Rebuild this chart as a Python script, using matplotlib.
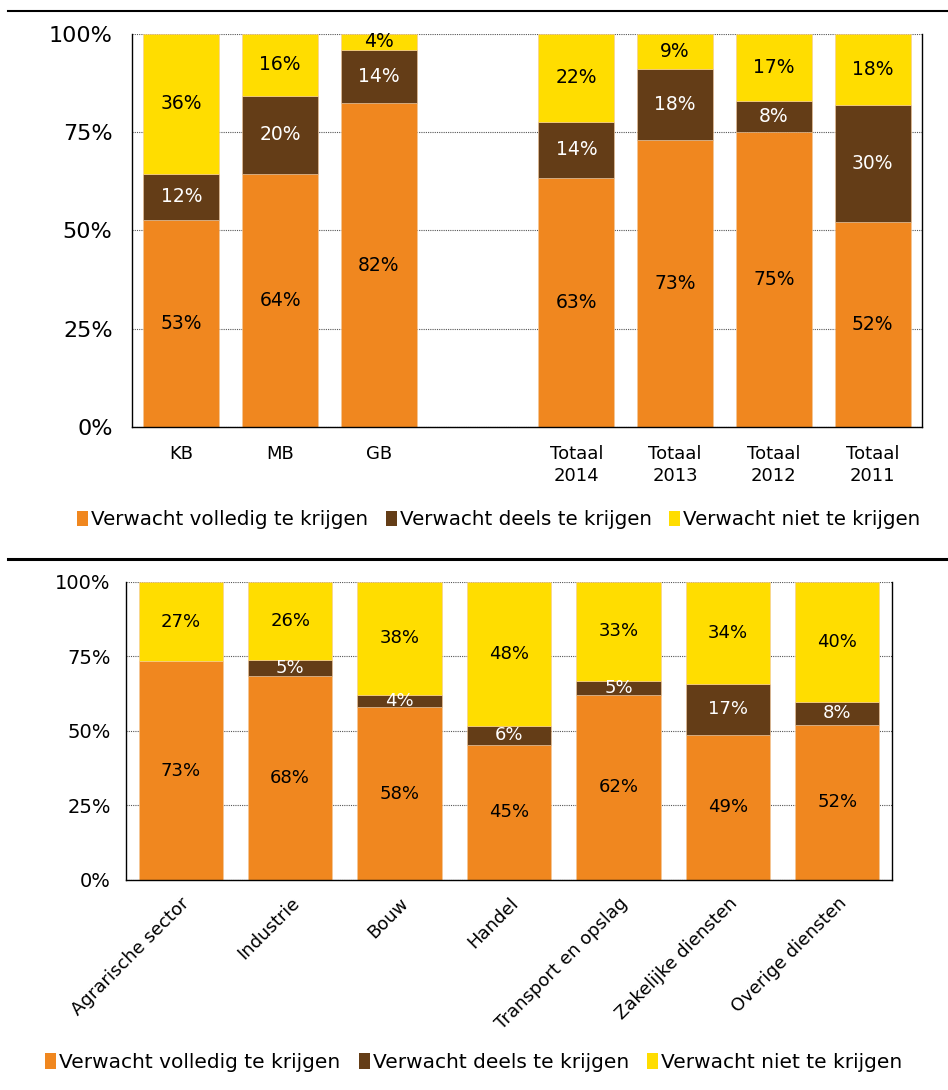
import matplotlib

matplotlib.use("Agg")
import matplotlib.pyplot as plt
from matplotlib.lines import Line2D
from matplotlib.patches import Patch

# top chart: size classes and yearly totals (blank slot between them)
top_labels = ["KB", "MB", "GB", "", "Totaal\n2014", "Totaal\n2013", "Totaal\n2012", "Totaal\n2011"]
top_full = [52.7, 64.4, 82.4, None, 63.4, 73.0, 75.1, 52.2]
top_part = [11.7, 19.8, 13.5, None, 14.2, 18.1, 7.9, 29.7]
top_none = [35.6, 15.8, 4.1, None, 22.4, 8.9, 17.0, 18.1]

# bottom chart: sectors
sectors = ["Agrarische sector", "Industrie", "Bouw", "Handel",
           "Transport en opslag", "Zakelijke diensten", "Overige diensten"]
sec_full = [73.4, 68.4, 58.0, 45.3, 62.1, 48.7, 52.0]
sec_part = [0.0, 5.3, 4.2, 6.4, 4.7, 17.1, 7.8]
sec_none = [26.6, 26.3, 37.8, 48.3, 33.2, 34.2, 40.2]

series_names = ["Verwacht volledig te krijgen", "Verwacht deels te krijgen", "Verwacht niet te krijgen"]
colors = ["#F0871F", "#643D17", "#FFDD00"]
text_colors = ["black", "white", "black"]

plt.rcParams["font.family"] = "DejaVu Sans"

fig = plt.figure(figsize=(9.48, 10.9), dpi=100)


def stacked(ax, full, part, none, width, label_size):
    for i, vals in enumerate(zip(full, part, none)):
        if vals[0] is None:
            continue
        bottom = 0.0
        for k, v in enumerate(vals):
            ax.bar(i, v, bottom=bottom, width=width, color=colors[k], zorder=2,
                   edgecolor="#f3c89a", linewidth=0.4)
            if v > 0:
                ax.text(i, bottom + v / 2, f"{round(v)}%", ha="center", va="center",
                        color=text_colors[k], fontsize=label_size, zorder=3)
            bottom += v


def style(ax, n, tick_size, pad):
    ax.set_ylim(0, 100)
    ax.set_xlim(-0.5, n - 0.5)
    ax.set_yticks([0, 25, 50, 75, 100])
    ax.set_yticklabels(["0%", "25%", "50%", "75%", "100%"], fontsize=tick_size)
    ax.yaxis.grid(True, linestyle=(0, (1, 1)), color="#555555", linewidth=0.8, zorder=0)
    ax.spines["top"].set_visible(False)
    for s in ("left", "bottom", "right"):
        ax.spines[s].set_color("black")
        ax.spines[s].set_linewidth(1.0)
    ax.tick_params(axis="both", length=0)
    ax.tick_params(axis="y", pad=pad)


ax1 = fig.add_axes([0.1392, 0.6083, 0.8333, 0.3606])
stacked(ax1, top_full, top_part, top_none, 0.77, 13.5)
style(ax1, len(top_labels), 16, 14)
ax1.set_xticks(range(len(top_labels)))
ax1.set_xticklabels(top_labels, fontsize=13, linespacing=1.25)
ax1.tick_params(axis="x", pad=13)

ax2 = fig.add_axes([0.1329, 0.1927, 0.808, 0.2734])
stacked(ax2, sec_full, sec_part, sec_none, 0.77, 13)
style(ax2, len(sectors), 14, 11)
ax2.set_xticks(range(len(sectors)))
ax2.set_xticklabels(sectors, fontsize=13, rotation=45, ha="right", rotation_mode="anchor")
ax2.tick_params(axis="x", pad=10)

handles = [Patch(facecolor=c, edgecolor="none") for c in colors]
fig.legend(handles, series_names, loc="center", bbox_to_anchor=(0.526, 0.523), ncol=3,
           frameon=False, fontsize=14.3, handlelength=0.55, handleheight=0.85,
           handletextpad=0.15, columnspacing=0.9)
fig.legend(handles, series_names, loc="center", bbox_to_anchor=(0.5, 0.025), ncol=3,
           frameon=False, fontsize=14.5, handlelength=0.55, handleheight=0.85,
           handletextpad=0.15, columnspacing=0.9)

fig.add_artist(Line2D([8 / 948, 1.0], [1 - 11 / 1090] * 2, color="black", linewidth=1.5,
                      transform=fig.transFigure))
fig.add_artist(Line2D([8 / 948, 1.0], [1 - 559 / 1090] * 2, color="black", linewidth=2.2,
                      transform=fig.transFigure))

fig.savefig("out.png", dpi=100)
